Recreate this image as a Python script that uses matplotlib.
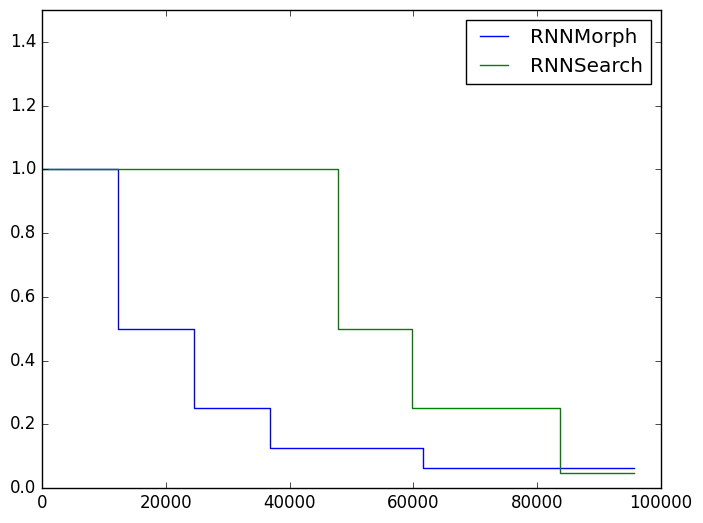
import matplotlib
matplotlib.use('Agg')
import matplotlib.pyplot as plt

# step schedules
morph_x = [0, 12300, 24600, 36900, 61500, 95600]
morph_y = [1.0, 0.5, 0.25, 0.125, 0.0625, 0.0625]

search_x = [0, 47800, 59800, 83700, 95600]
search_y = [1.0, 0.5, 0.25, 0.047, 0.047]

plt.style.use('classic')
fig = plt.figure(figsize=(7.03, 5.23), dpi=100)
fig.subplots_adjust(left=42/703, right=661/703, top=1-10/523, bottom=1-488/523)
ax = fig.add_subplot(111)

ax.step(morph_x, morph_y, where='post', color='b', label='RNNMorph')
ax.step(search_x, search_y, where='post', color='g', label='RNNSearch')

ax.set_xlim(0, 100000)
ax.set_ylim(0, 1.5)
ax.legend(loc='upper right')

fig.savefig('out.png', dpi=100)
